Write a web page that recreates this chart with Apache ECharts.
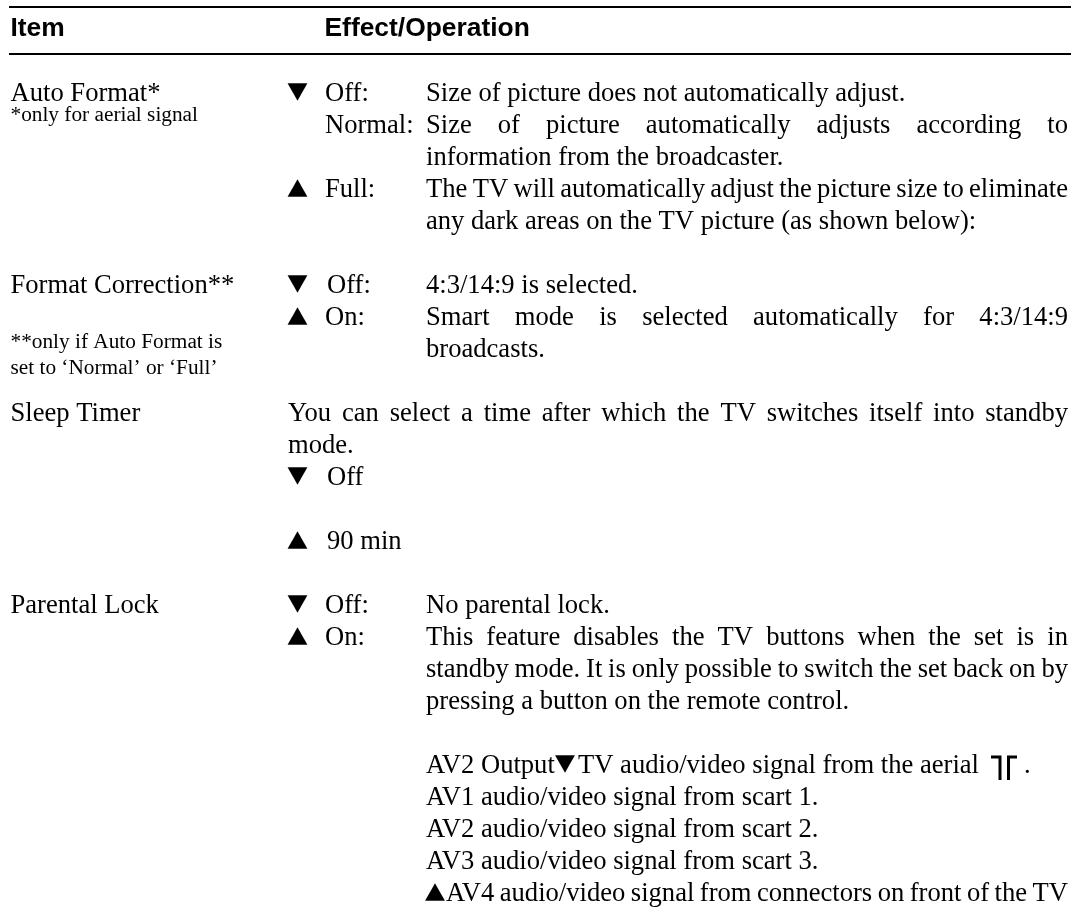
<!DOCTYPE html>
<html>
<head>
<meta charset="utf-8">
<style>html,body{margin:0;padding:0;background:#fff;}#main{width:1071px;height:921px;}</style>
<script src="https://cdn.jsdelivr.net/npm/echarts@6/dist/echarts.min.js"></script>
</head>
<body>
<div id="main"></div>
<script>
// table text
const headers = ['Item', 'Effect/Operation'];
const itemNames = ['Auto Format*', 'Format Correction**', 'Sleep Timer', 'Parental Lock'];
const itemNotes = ['*only for aerial signal', '**only if Auto Format is', 'set to ‘Normal’ or ‘Full’'];
const optionLabels = ['Off:', 'Normal:', 'Full:', 'Off:', 'On:', 'Off', '90 min', 'Off:', 'On:'];
const effectLines = [
    'Size of picture does not automatically adjust.',
    'Size of picture automatically adjusts according to',
    'information from the broadcaster.',
    'The TV will automatically adjust the picture size to eliminate',
    'any dark areas on the TV picture (as shown below):',
    '4:3/14:9 is selected.',
    'Smart mode is selected automatically for 4:3/14:9',
    'broadcasts.',
    'No parental lock.',
    'This feature disables the TV buttons when the set is in',
    'standby mode. It is only possible to switch the set back on by',
    'pressing a button on the remote control.'
];
const sleepLines = ['You can select a time after which the TV switches itself into standby', 'mode.'];
const outputLines = [
    'AV2 Output',
    'TV audio/video signal from the aerial',
    'AV1 audio/video signal from scart 1.',
    'AV2 audio/video signal from scart 2.',
    'AV3 audio/video signal from scart 3.',
    'AV4 audio/video signal from connectors on front of the TV'
];

const SERIF = '"Liberation Serif"';
const SANS = '"Liberation Sans"';
const SYMBOL = '"DejaVu Sans"';
const BODY = 26.6;
const SMALL = 21.3;
const RIGHT = 1068;
const ctx = document.createElement('canvas').getContext('2d');

function textEl(text, x, y, size, family, weight) {
    size = size || BODY;
    return {
        type: 'text', x: x, y: y - 0.23 * size,
        style: {text: text, fontFamily: family || SERIF, fontSize: size, fontWeight: weight || 'normal',
            fill: '#000', verticalAlign: 'middle'}
    };
}
function triangle(glyph, x, y) {
    const el = textEl(glyph, x, y - 2.5, 23, SYMBOL);
    el.scaleX = 1.13;
    return el;
}
// right given: spread or tighten the word gaps so the line ends there
function addLine(text, x, y, right, size) {
    size = size || BODY;
    if (!right) {
        els.push(textEl(text, x, y, size));
        return;
    }
    ctx.font = size + 'px ' + SERIF;
    const words = text.split(' ');
    const wordsW = words.reduce(function (s, w) { return s + ctx.measureText(w).width; }, 0);
    const gap = (right - x - wordsW) / (words.length - 1);
    let cur = x;
    words.forEach(function (w) {
        els.push(textEl(w, cur, y, size));
        cur += ctx.measureText(w).width + gap;
    });
}

const els = [];
// rules
[7, 54].forEach(function (y) {
    els.push({type: 'line', shape: {x1: 9, y1: y, x2: 1071, y2: y}, style: {stroke: '#000', lineWidth: 2}});
});
els.push(textEl(headers[0], 10.5, 35, 26.4, SANS, 'bold'));
els.push(textEl(headers[1], 324.5, 35, 26.4, SANS, 'bold'));

// left column
[100, 292, 420, 612].forEach(function (y, i) { addLine(itemNames[i], 10.5, y); });
[120, 347, 373].forEach(function (y, i) { addLine(itemNotes[i], 10.5, y, null, SMALL); });

// option labels
[[100, 325], [132, 325], [196, 325], [292, 327], [324, 325], [484, 327], [548, 327], [612, 325], [644, 325]].forEach(function (r, i) {
    addLine(optionLabels[i], r[1], r[0]);
});

// triangles
[[100, '▼'], [196, '▲'], [292, '▼'], [324, '▲'], [484, '▼'], [548, '▲'], [612, '▼'], [644, '▲']].forEach(function (r) {
    els.push(triangle(r[1], 287.5, r[0]));
});

// effect text
[[100], [132, RIGHT], [164], [196, RIGHT], [228], [292], [324, RIGHT], [356], [612], [644, RIGHT], [676, RIGHT], [708]].forEach(function (r, i) {
    addLine(effectLines[i], 426, r[0], r[1]);
});
addLine(sleepLines[0], 288, 420, RIGHT);
addLine(sleepLines[1], 288, 452);

// AV list
addLine(outputLines[0], 426, 772);
els.push(triangle('▼', 555, 772));
addLine(outputLines[1], 578, 772);
addLine('.', 1024, 772);
// aerial socket mark
[[991, 757, 1000, 757, 1000, 780], [1017, 757, 1008.5, 757, 1008.5, 780]].forEach(function (p) {
    els.push({type: 'polyline', shape: {points: [[p[0], p[1]], [p[2], p[3]], [p[4], p[5]]]}, style: {stroke: '#000', lineWidth: 3, fill: null}});
});
addLine(outputLines[2], 426, 804);
addLine(outputLines[3], 426, 836);
addLine(outputLines[4], 426, 868);
els.push(triangle('▲', 425, 900));
addLine(outputLines[5], 446, 900, RIGHT);

const chart = echarts.init(document.getElementById('main'), null, {renderer: 'canvas'});
chart.setOption({backgroundColor: '#fff', animation: false, graphic: {elements: els}});
</script>
</body>
</html>
